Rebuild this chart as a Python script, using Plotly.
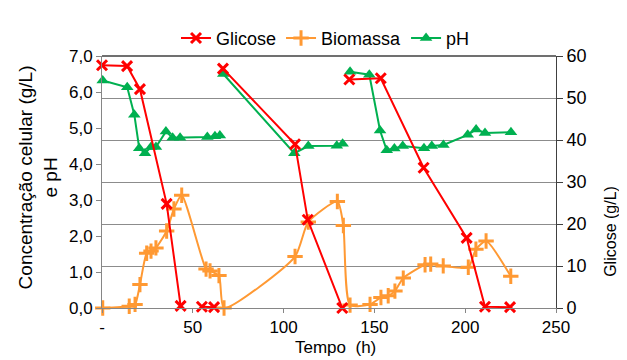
import plotly.graph_objects as go

# ---- data (time in hours) ----
glic_t = [0, 13.8, 20.9, 35.6, 43.3, None, 55.0, 61.7, None, 66.6, 106.3, 113.3, 132.3, None,
          136.2, 153.5, 177.1, 200.8, 210.9, 224.7]
glic_v = [57.8, 57.6, 52.1, 24.8, 0.5, None, 0.3, 0.2, None, 57.0, 39.0, 21.0, 0.0, None,
          54.4, 54.7, 33.4, 16.7, 0.3, 0.2]

bio_t = [0.4, 15.0, 18.2, 20.9, 24.6, 27.0, 29.7, 35.6, 39.6, 43.9, 57.3, 59.5, 64.4, 67.2,
         106.3, 113.6, 129.6, 132.9, 136.6, 147.6, 153.6, 157.6, 161.3, 165.9, 177.9, 181.0,
         187.9, 201.7, 205.9, 211.5, 225.1]
bio_v = [0.0, 0.05, 0.1, 0.65, 1.52, 1.58, 1.67, 2.14, 2.75, 3.13, 1.08, 1.03, 0.9, 0.0,
         1.43, 2.39, 2.96, 2.29, 0.08, 0.1, 0.29, 0.34, 0.47, 0.83, 1.2, 1.22,
         1.17, 1.13, 1.63, 1.86, 0.88]

ph_t = [0.4, 13.9, 17.8, 20.5, 23.7, 27.0, 29.7, 35.2, 38.9, 43.0, 58.0, 62.2, 64.9, None,
        66.8, 105.9, 113.6, 129.3, 132.5, None,
        136.6, 147.2, 153.1, 156.8, 161.0, 165.6, 177.3, 181.6, 188.0, 201.4, 206.0, 210.9, 225.2]
ph_v = [6.32, 6.13, 5.37, 4.44, 4.30, 4.47, 4.47, 4.90, 4.73, 4.73, 4.75, 4.77, 4.79, None,
        6.50, 4.30, 4.50, 4.51, 4.56, None,
        6.56, 6.48, 4.93, 4.38, 4.43, 4.50, 4.44, 4.50, 4.53, 4.81, 4.96, 4.86, 4.88]

x_tick_vals = [0, 50, 100, 150, 200, 250]
x_tick_text = ["-", "50", "100", "150", "200", "250"]

FONT = "Liberation Sans, Arial, sans-serif"
RED = "#FF0000"
ORANGE = "#FF9933"
GREEN = "#00B050"

fig = go.Figure()
fig.add_trace(go.Scatter(
    x=glic_t, y=glic_v, name="Glicose", yaxis="y2", mode="lines+markers",
    connectgaps=False, cliponaxis=False,
    line=dict(color=RED, width=2),
    marker=dict(symbol="x-thin-open", size=10, line=dict(color=RED, width=3), color=RED)))
fig.add_trace(go.Scatter(
    x=bio_t, y=bio_v, name="Biomassa", mode="lines+markers", cliponaxis=False,
    line=dict(color=ORANGE, width=2, shape="spline", smoothing=0.6),
    marker=dict(symbol="cross-thin-open", size=11, line=dict(color=ORANGE, width=3), color=ORANGE)))
fig.add_trace(go.Scatter(
    x=ph_t, y=ph_v, name="pH", mode="lines+markers", connectgaps=False, cliponaxis=False,
    line=dict(color=GREEN, width=2),
    marker=dict(symbol="triangle-up", size=11, color=GREEN)))

# page body adds an 8px margin; size the figure so the plot area lands where the reference has it
fig.update_layout(
    width=619, height=352,
    margin=dict(l=94, r=71, t=29, b=52),
    paper_bgcolor="white", plot_bgcolor="white",
    separators=",.",
    font=dict(family=FONT, size=17, color="black"),
    showlegend=True,
    legend=dict(orientation="h", x=0.163, xanchor="left", y=1.07, yanchor="middle",
                font=dict(size=18), bgcolor="rgba(0,0,0,0)", itemwidth=30,
                traceorder="normal"),
    xaxis=dict(range=[0, 250], tickvals=x_tick_vals, ticktext=x_tick_text,
               showgrid=False, zeroline=False, showline=True, linecolor="#868686",
               ticks="outside", ticklen=4, tickcolor="#868686",
               tickfont=dict(size=17)),
    yaxis=dict(range=[0, 7], dtick=1, tickformat=".1f", showgrid=False, zeroline=False,
               showline=True, linecolor="#868686", ticks="outside", ticklen=5,
               tickcolor="#868686", tickfont=dict(size=17)),
    yaxis2=dict(range=[0, 60], dtick=10, overlaying="y", side="right",
                showgrid=True, gridcolor="#8C8C8C", gridwidth=1, zeroline=False,
                showline=True, linecolor="#404040", ticks="outside", ticklen=6,
                tickcolor="#404040", tickfont=dict(size=18)),
    shapes=[dict(type="line", xref="paper", yref="paper", x0=0, x1=1, y0=1, y1=1,
                 line=dict(color="#404040", width=1.5))],
    annotations=[
        dict(text="Tempo  (h)", xref="paper", yref="paper", x=0.515, y=-0.158,
             xanchor="center", yanchor="middle", showarrow=False, font=dict(size=17)),
        dict(text="Concentração celular (g/L)<br>e pH", xref="paper", yref="paper",
             x=-0.14, y=0.52, xanchor="center", yanchor="middle", textangle=-90,
             showarrow=False, font=dict(size=19)),
        dict(text="Glicose (g/L)", xref="paper", yref="paper", x=1.121, y=0.306,
             xanchor="center", yanchor="middle", textangle=-90, showarrow=False,
             font=dict(size=16)),
    ],
)

fig.write_html("out.html")
